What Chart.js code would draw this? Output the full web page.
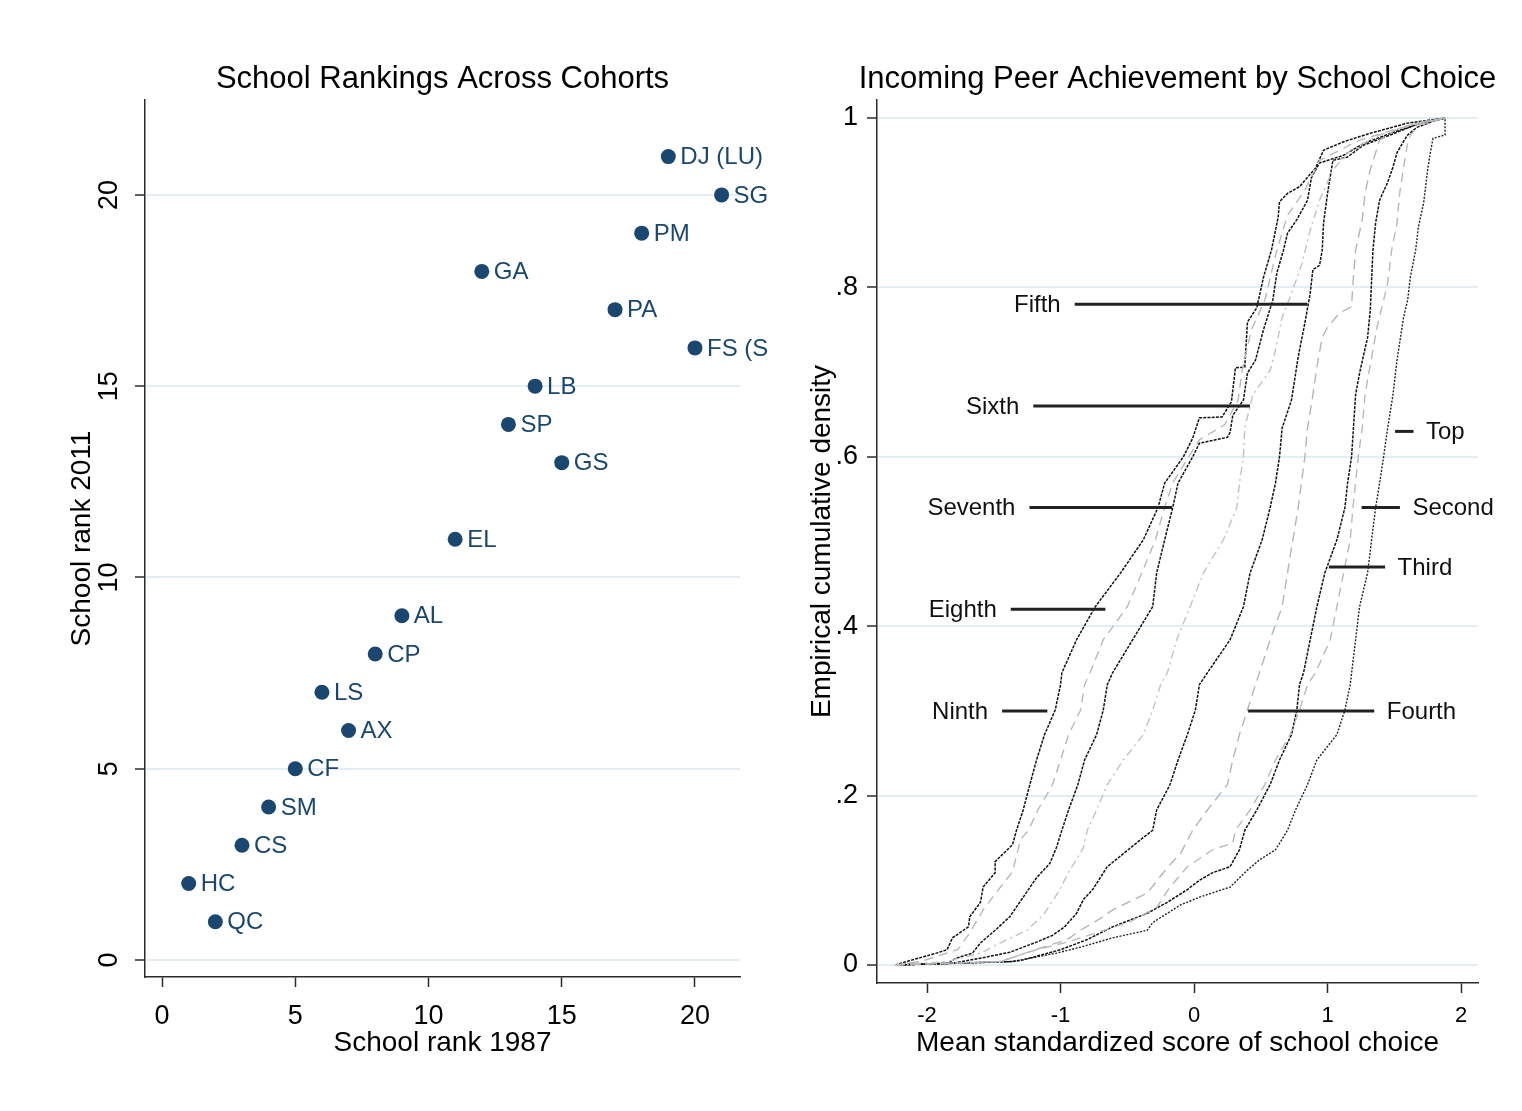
<!DOCTYPE html>
<html><head><meta charset="utf-8">
<script src="https://cdn.jsdelivr.net/npm/chart.js@4.4.1/dist/chart.umd.min.js"></script>
<style>
html,body{margin:0;padding:0;background:#fff;}
#wrap{position:relative;width:1522px;height:1111px;background:#fff;overflow:hidden;}
canvas{position:absolute;top:0;display:block;}
#left{left:0;}
#right{left:770px;}
</style></head><body>
<div id="wrap"><canvas id="left" width="770" height="1111"></canvas><canvas id="right" width="752" height="1111"></canvas></div>
<script>
// ---------- Left panel data ----------
const schoolCodes = ["DJ (LU)","SG","PM","GA","PA","FS (S","LB","SP","GS","EL","AL","CP","LS","AX","CF","SM","CS","HC","QC"];
const rank1987 = [19,21,18,12,17,20,14,13,15,11,9,8,6,7,5,4,3,1,2];
const rank2011 = [21,20,19,18,17,16,15,14,13,11,9,8,7,6,5,4,3,2,1];
const leftXTicks = [0,5,10,15,20];
const leftYTicks = [0,5,10,15,20];
const leftTitle = 'School Rankings Across Cohorts';

// ---------- Right panel data (empirical CDFs, [score, cumulative density]) ----------
const cdfNinth = [[-2.24,0],[-2.11,0.006],[-1.93,0.014],[-1.85,0.018],[-1.81,0.032],[-1.69,0.045],[-1.68,0.057],[-1.60,0.074],[-1.58,0.092],[-1.49,0.109],[-1.49,0.122],[-1.36,0.142],[-1.33,0.159],[-1.28,0.183],[-1.23,0.213],[-1.18,0.242],[-1.12,0.272],[-1.04,0.301],[-1.00,0.331],[-0.99,0.345],[-0.88,0.384],[-0.74,0.423],[-0.55,0.463],[-0.38,0.502],[-0.27,0.540],[-0.22,0.569],[-0.08,0.600],[-0.01,0.622],[0.04,0.646],[0.21,0.647],[0.28,0.665],[0.31,0.705],[0.38,0.706],[0.40,0.759],[0.47,0.776],[0.52,0.812],[0.58,0.844],[0.63,0.883],[0.64,0.901],[0.70,0.911],[0.79,0.919],[0.91,0.941],[0.97,0.962],[1.12,0.972],[1.32,0.982],[1.60,0.994],[1.88,1.0]];
const cdfEighth = [[-2.24,0],[-2.05,0.004],[-1.77,0.018],[-1.68,0.038],[-1.58,0.065],[-1.48,0.086],[-1.36,0.110],[-1.30,0.148],[-1.24,0.159],[-1.17,0.183],[-1.06,0.213],[-1.00,0.242],[-0.94,0.272],[-0.85,0.301],[-0.82,0.331],[-0.78,0.345],[-0.68,0.384],[-0.50,0.423],[-0.39,0.463],[-0.29,0.502],[-0.22,0.540],[-0.16,0.569],[-0.04,0.600],[0.04,0.620],[0.23,0.638],[0.33,0.667],[0.36,0.702],[0.43,0.750],[0.53,0.785],[0.62,0.844],[0.70,0.885],[0.83,0.915],[0.94,0.950],[1.24,0.974],[1.54,0.988],[1.88,1.0]];
const cdfSeventh = [[-2.24,0],[-1.85,0.002],[-1.78,0.008],[-1.66,0.014],[-1.60,0.026],[-1.49,0.041],[-1.38,0.057],[-1.28,0.080],[-1.18,0.103],[-1.08,0.120],[-1.03,0.139],[-0.99,0.159],[-0.94,0.183],[-0.87,0.213],[-0.82,0.242],[-0.73,0.272],[-0.68,0.301],[-0.65,0.331],[-0.61,0.345],[-0.46,0.384],[-0.31,0.423],[-0.28,0.463],[-0.22,0.502],[-0.16,0.540],[-0.12,0.569],[-0.01,0.600],[0.04,0.616],[0.25,0.623],[0.27,0.629],[0.29,0.649],[0.37,0.667],[0.40,0.699],[0.46,0.714],[0.52,0.750],[0.59,0.785],[0.62,0.817],[0.67,0.844],[0.70,0.864],[0.77,0.880],[0.85,0.903],[0.88,0.930],[0.94,0.947],[1.12,0.956],[1.27,0.970],[1.49,0.983],[1.72,0.995],[1.88,1.0]];
const cdfSixth = [[-2.24,0],[-1.85,0.004],[-1.60,0.014],[-1.40,0.030],[-1.25,0.041],[-1.13,0.059],[-1.02,0.085],[-0.93,0.112],[-0.83,0.138],[-0.80,0.159],[-0.73,0.183],[-0.65,0.213],[-0.53,0.242],[-0.38,0.272],[-0.31,0.301],[-0.25,0.331],[-0.20,0.345],[-0.13,0.384],[-0.03,0.423],[0.07,0.463],[0.22,0.502],[0.32,0.540],[0.34,0.569],[0.37,0.600],[0.38,0.634],[0.44,0.673],[0.57,0.702],[0.61,0.726],[0.66,0.765],[0.73,0.793],[0.81,0.829],[0.87,0.868],[0.94,0.903],[1.04,0.939],[1.17,0.962],[1.39,0.980],[1.62,0.992],[1.88,1.0]];
const cdfFifth = [[-2.24,0],[-1.81,0.002],[-1.60,0.008],[-1.38,0.015],[-1.18,0.027],[-1.06,0.035],[-0.97,0.045],[-0.88,0.061],[-0.83,0.077],[-0.76,0.089],[-0.65,0.116],[-0.40,0.148],[-0.31,0.159],[-0.28,0.183],[-0.18,0.213],[-0.12,0.242],[-0.05,0.272],[0.01,0.301],[0.04,0.331],[0.10,0.345],[0.27,0.384],[0.37,0.423],[0.42,0.463],[0.51,0.502],[0.57,0.540],[0.61,0.569],[0.64,0.600],[0.66,0.634],[0.73,0.667],[0.78,0.718],[0.83,0.758],[0.87,0.793],[0.89,0.821],[0.94,0.826],[0.96,0.844],[0.97,0.876],[1.00,0.911],[1.04,0.950],[1.15,0.954],[1.27,0.968],[1.47,0.980],[1.69,0.994],[1.88,1.0]];
const cdfFourth = [[-2.24,0],[-1.45,0.004],[-1.30,0.012],[-1.15,0.020],[-0.95,0.030],[-0.85,0.041],[-0.70,0.055],[-0.61,0.065],[-0.35,0.085],[-0.20,0.115],[-0.10,0.132],[-0.01,0.159],[0.10,0.183],[0.25,0.213],[0.29,0.242],[0.34,0.272],[0.40,0.301],[0.46,0.331],[0.49,0.345],[0.57,0.384],[0.66,0.423],[0.70,0.463],[0.74,0.502],[0.78,0.540],[0.83,0.600],[0.85,0.634],[0.89,0.673],[0.92,0.706],[0.96,0.741],[1.00,0.753],[1.09,0.770],[1.18,0.777],[1.19,0.805],[1.21,0.844],[1.26,0.880],[1.28,0.911],[1.32,0.939],[1.39,0.974],[1.51,0.986],[1.66,0.994],[1.88,1.0]];
const cdfThird = [[-2.24,0],[-1.45,0.004],[-1.36,0.009],[-1.18,0.018],[-0.95,0.027],[-0.73,0.038],[-0.48,0.051],[-0.28,0.068],[-0.18,0.092],[-0.05,0.116],[0.14,0.136],[0.29,0.144],[0.31,0.159],[0.42,0.183],[0.53,0.213],[0.61,0.242],[0.72,0.272],[0.79,0.301],[0.85,0.331],[0.91,0.345],[1.02,0.384],[1.07,0.423],[1.12,0.463],[1.17,0.502],[1.19,0.540],[1.23,0.600],[1.26,0.634],[1.28,0.673],[1.37,0.753],[1.42,0.785],[1.45,0.805],[1.48,0.844],[1.52,0.876],[1.54,0.911],[1.57,0.942],[1.60,0.970],[1.62,0.980],[1.69,0.992],[1.88,1.0]];
const cdfSecond = [[-2.24,0],[-1.36,0.004],[-1.28,0.006],[-1.00,0.018],[-0.80,0.030],[-0.61,0.045],[-0.35,0.061],[-0.20,0.074],[-0.05,0.089],[0.04,0.100],[0.14,0.109],[0.27,0.116],[0.34,0.136],[0.38,0.159],[0.47,0.183],[0.57,0.213],[0.64,0.242],[0.73,0.272],[0.77,0.301],[0.79,0.331],[0.82,0.345],[0.87,0.384],[0.92,0.423],[0.98,0.463],[1.07,0.502],[1.13,0.540],[1.15,0.569],[1.18,0.600],[1.21,0.673],[1.24,0.699],[1.30,0.741],[1.32,0.773],[1.34,0.844],[1.36,0.876],[1.39,0.903],[1.45,0.924],[1.49,0.942],[1.52,0.959],[1.56,0.970],[1.60,0.980],[1.67,0.989],[1.77,0.995],[1.88,1.0]];
const cdfTop = [[-2.24,0],[-1.36,0.004],[-1.03,0.014],[-0.85,0.021],[-0.61,0.032],[-0.35,0.041],[-0.31,0.050],[-0.10,0.071],[0.04,0.080],[0.27,0.092],[0.40,0.112],[0.49,0.124],[0.61,0.136],[0.70,0.159],[0.76,0.183],[0.85,0.213],[0.92,0.242],[1.07,0.272],[1.13,0.301],[1.17,0.331],[1.21,0.384],[1.24,0.423],[1.30,0.463],[1.33,0.502],[1.36,0.540],[1.39,0.569],[1.42,0.600],[1.45,0.634],[1.49,0.673],[1.52,0.714],[1.57,0.765],[1.60,0.785],[1.62,0.812],[1.66,0.844],[1.68,0.871],[1.72,0.900],[1.75,0.939],[1.77,0.959],[1.79,0.976],[1.88,0.980],[1.88,1.0]];
const rightXTicks = [-2,-1,0,1,2];
const rightYTicks = [0,0.2,0.4,0.6,0.8,1];
const rightYTickLabels = ["0",".2",".4",".6",".8","1"];
const rightTitle = 'Incoming Peer Achievement by School Choice';
// curve name labels: text, y level, leader line start / end (data units)
const noteNames = ["Fifth","Sixth","Seventh","Eighth","Ninth","Top","Second","Third","Fourth"];
const noteY     = [0.780,0.660,0.540,0.420,0.300,0.630,0.540,0.470,0.300];
const noteFrom  = [-0.894,-1.204,-1.233,-1.373,-1.438,1.506,1.255,1.010,0.405];
const noteTo    = [0.848,0.419,-0.165,-0.664,-1.099,1.644,1.542,1.431,1.350];
const noteSide  = ["left","left","left","left","left","right","right","right","right"];

// ---------- styling ----------
const FONT = "'Liberation Sans', Arial, Helvetica, sans-serif";
const NAVY = '#1a476f';
const AXIS = '#2b2b2b';
const GRID = '#e4edf1';

// title centred over the plot region (not the whole canvas), as in the original
const panelTitlePlugin = {
  id: 'panelTitle',
  afterDraw(chart, args, opts) {
    const ctx = chart.ctx, ca = chart.chartArea;
    ctx.save();
    ctx.font = '31px ' + FONT;
    ctx.fillStyle = '#000';
    ctx.textAlign = 'center';
    ctx.textBaseline = 'middle';
    ctx.fillText(opts.text, (ca.left + ca.right) / 2, ca.top - 20.5);
    ctx.restore();
  }
};

const pointLabelPlugin = {
  id: 'pointLabels',
  afterDatasetsDraw(chart) {
    const ctx = chart.ctx;
    const meta = chart.getDatasetMeta(0);
    ctx.save();
    ctx.font = '24px ' + FONT;
    ctx.fillStyle = NAVY;
    ctx.textAlign = 'left';
    ctx.textBaseline = 'middle';
    meta.data.forEach((el, i) => {
      ctx.fillText(schoolCodes[i], el.x + 12, el.y + 1);
    });
    ctx.restore();
  }
};

const notePlugin = {
  id: 'curveNotes',
  afterDatasetsDraw(chart) {
    const ctx = chart.ctx;
    const xs = chart.scales.x, ys = chart.scales.y;
    ctx.save();
    ctx.font = '24px ' + FONT;
    ctx.fillStyle = '#111';
    ctx.strokeStyle = '#222';
    ctx.lineWidth = 3;
    ctx.textBaseline = 'middle';
    noteNames.forEach((name, i) => {
      const x1 = xs.getPixelForValue(noteFrom[i]);
      const x2 = xs.getPixelForValue(noteTo[i]);
      const y = ys.getPixelForValue(noteY[i]);
      ctx.beginPath();
      ctx.moveTo(x1, y); ctx.lineTo(x2, y); ctx.stroke();
      if (noteSide[i] === 'left') {
        ctx.textAlign = 'right';
        ctx.fillText(name, x1 - 14, y + 1);
      } else {
        ctx.textAlign = 'left';
        ctx.fillText(name, x2 + 12.5, y + 1);
      }
    });
    ctx.restore();
  }
};

Chart.defaults.font.family = FONT;
Chart.defaults.color = '#000';

new Chart(document.getElementById('left'), {
  type: 'scatter',
  data: {
    datasets: [{
      label: 'School rank 2011',
      data: rank1987.map((x, i) => ({x: x, y: rank2011[i]})),
      backgroundColor: NAVY,
      borderColor: NAVY,
      pointRadius: 7.5,
      pointHoverRadius: 7.5,
      borderWidth: 0
    }]
  },
  options: {
    responsive: false,
    animation: false,
    events: [],
    layout: { padding: { left: 65, right: 30, top: 100, bottom: 51 } },
    plugins: {
      legend: { display: false },
      tooltip: { enabled: false },
      title: { display: false },
      panelTitle: { text: leftTitle }
    },
    scales: {
      x: {
        type: 'linear', min: -0.64, max: 21.69,
        afterBuildTicks: s => { s.ticks = leftXTicks.map(v => ({value: v})); },
        afterFit: s => { s.height = 83; },
        grid: { display: true, drawOnChartArea: false, drawTicks: true, tickLength: 10, tickColor: AXIS, tickWidth: 1.5 },
        border: { display: true, color: AXIS, width: 1.5 },
        ticks: { font: { size: 27 }, color: '#000', padding: 13, maxRotation: 0, autoSkip: false },
        title: { display: true, text: 'School rank 1987', font: { size: 28 }, color: '#000', padding: 0 }
      },
      y: {
        type: 'linear', min: -0.444, max: 22.48,
        afterBuildTicks: s => { s.ticks = leftYTicks.map(v => ({value: v})); },
        afterFit: s => { s.width = 80; },
        grid: { display: true, drawOnChartArea: true, color: GRID, lineWidth: 2, drawTicks: true, tickLength: 10, tickColor: AXIS, tickWidth: 1.5 },
        border: { display: true, color: AXIS, width: 1.5 },
        ticks: { font: { size: 27 }, color: '#000', padding: 10, minRotation: 90, maxRotation: 90, crossAlign: 'center', autoSkip: false },
        title: { display: true, text: 'School rank 2011', font: { size: 28 }, color: '#000', padding: 0 }
      }
    }
  },
  plugins: [pointLabelPlugin, panelTitlePlugin]
});

const curveSpecs = [
  {name: 'Eighth',  data: cdfEighth,  color: '#b9b9b9', dash: [9,6],        width: 1.4},
  {name: 'Sixth',   data: cdfSixth,   color: '#c2c2c2', dash: [8,4,2,4],    width: 1.4},
  {name: 'Fourth',  data: cdfFourth,  color: '#b5b5b5', dash: [10,6],       width: 1.4},
  {name: 'Third',   data: cdfThird,   color: '#b9b9b9', dash: [9,6],        width: 1.4},
  {name: 'Ninth',   data: cdfNinth,   color: '#111111', dash: [3,1.2],      width: 1.5},
  {name: 'Seventh', data: cdfSeventh, color: '#111111', dash: [3,1.2],      width: 1.5},
  {name: 'Fifth',   data: cdfFifth,   color: '#111111', dash: [3,1.2],      width: 1.5},
  {name: 'Second',  data: cdfSecond,  color: '#111111', dash: [3,1.2],      width: 1.5},
  {name: 'Top',     data: cdfTop,     color: '#222222', dash: [2,1.5],      width: 1.4}
];

new Chart(document.getElementById('right'), {
  type: 'scatter',
  data: {
    datasets: curveSpecs.map(c => ({
      label: c.name,
      data: c.data.map(p => ({x: p[0], y: p[1]})),
      showLine: true,
      borderColor: c.color,
      borderWidth: c.width,
      borderDash: c.dash,
      pointRadius: 0,
      pointHoverRadius: 0,
      fill: false,
      tension: 0
    }))
  },
  options: {
    responsive: false,
    animation: false,
    events: [],
    layout: { padding: { left: 35, right: 44, top: 100, bottom: 51 } },
    plugins: {
      legend: { display: false },
      tooltip: { enabled: false },
      title: { display: false },
      panelTitle: { text: rightTitle }
    },
    scales: {
      x: {
        type: 'linear', min: -2.375, max: 2.127,
        afterBuildTicks: s => { s.ticks = rightXTicks.map(v => ({value: v})); },
        afterFit: s => { s.height = 77; },
        grid: { display: true, drawOnChartArea: false, drawTicks: true, tickLength: 10, tickColor: AXIS, tickWidth: 1.5 },
        border: { display: true, color: AXIS, width: 1.5 },
        ticks: { font: { size: 22 }, color: '#000', padding: 10, maxRotation: 0, autoSkip: false },
        title: { display: true, text: 'Mean standardized score of school choice', font: { size: 28 }, color: '#000', padding: 0 }
      },
      y: {
        type: 'linear', min: -0.0213, max: 1.0213,
        afterBuildTicks: s => { s.ticks = rightYTicks.map(v => ({value: v})); },
        afterFit: s => { s.width = 72; },
        grid: { display: true, drawOnChartArea: true, color: GRID, lineWidth: 2, drawTicks: true, tickLength: 10, tickColor: AXIS, tickWidth: 1.5 },
        border: { display: true, color: AXIS, width: 1.5 },
        ticks: { font: { size: 27 }, color: '#000', padding: 9, autoSkip: false,
          callback: (v) => { const i = rightYTicks.findIndex(t => Math.abs(t - v) < 1e-9); return i >= 0 ? rightYTickLabels[i] : ''; } },
        title: { display: true, text: 'Empirical cumulative density', font: { size: 28 }, color: '#000', padding: 0 }
      }
    }
  },
  plugins: [notePlugin, panelTitlePlugin]
});
</script>
</body></html>
